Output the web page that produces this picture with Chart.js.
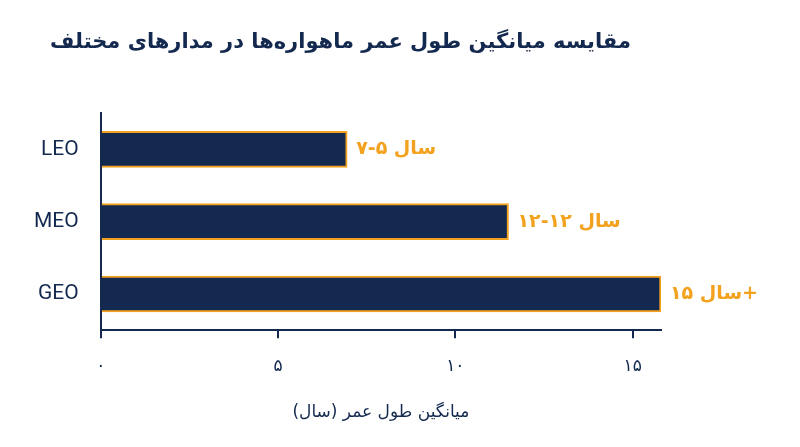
<!DOCTYPE html>
<html><head><meta charset="utf-8">
<script src="https://cdn.jsdelivr.net/npm/chart.js@4/dist/chart.umd.min.js"></script>
<style>html,body{margin:0;background:#fff}#w{width:800px;height:447px}</style>
</head><body><div id="w"><canvas id="c" dir="rtl"></canvas></div>
<script>
const categories = ['LEO','MEO','GEO'];
const lifetimes = [6.95, 11.5, 15.8];
const barLabels = ['سال ۵-۷','سال ۱۲-۱۲','سال ۱۵+'];
const tickValues = [0,5,10,15];
const tickLabels = ['۰','۵','۱۰','۱۵'];
const NAVY='#14294f', ORANGE='#f3a21f';
const FA='"DejaVu Sans", sans-serif';

const labelPlugin={id:'lbl',afterDatasetsDraw(chart){
  const ctx=chart.ctx, meta=chart.getDatasetMeta(0);
  ctx.save(); ctx.direction='ltr'; ctx.fillStyle=ORANGE; ctx.font='bold 19px '+FA;
  ctx.textAlign='left'; ctx.textBaseline='middle';
  meta.data.forEach((b,i)=>ctx.fillText(barLabels[i], b.x+9, b.y));
  ctx.restore();
}};

new Chart(document.getElementById('c'),{
  type:'bar',
  data:{labels:categories,datasets:[{data:lifetimes,barThickness:36,
    borderColor:ORANGE,borderWidth:2,borderSkipped:'left',
    backgroundColor(c){
      const ch=c.chart, el=ch.getDatasetMeta(0).data[c.dataIndex];
      if(!el||!isFinite(el.base)||!isFinite(el.x)||el.x===el.base) return NAVY;
      const g=ch.ctx.createLinearGradient(el.base,0,el.x,0);
      g.addColorStop(0,NAVY); g.addColorStop(0.8,NAVY); g.addColorStop(1,ORANGE);
      return g;
    }}]},
  options:{indexAxis:'y',responsive:true,maintainAspectRatio:false,animation:false,
    layout:{padding:{left:20,right:139,top:10,bottom:20}},
    plugins:{legend:{display:false},tooltip:{enabled:false},
      title:{display:true,text:'مقایسه میانگین طول عمر ماهواره‌ها در مدارهای مختلف',
        color:NAVY,font:{family:FA,size:21,weight:'bold'},padding:{top:20,bottom:58}}},
    scales:{
      x:{min:0,max:15.8,afterBuildTicks(s){s.ticks=tickValues.map(v=>({value:v}));},
        ticks:{color:NAVY,font:{family:FA,size:17},padding:18,callback:(v)=>tickLabels[tickValues.indexOf(v)]},
        grid:{drawOnChartArea:false,color:NAVY,tickLength:8,lineWidth:2},
        border:{color:NAVY,width:2},
        title:{display:true,text:'میانگین طول عمر (سال)',color:NAVY,font:{family:FA,size:17},padding:{top:8}}},
      y:{ticks:{color:NAVY,font:{family:'Roboto',size:21},padding:14},
        grid:{display:false},border:{color:NAVY,width:2}}
    }}
  ,plugins:[labelPlugin]});
</script></body></html>
